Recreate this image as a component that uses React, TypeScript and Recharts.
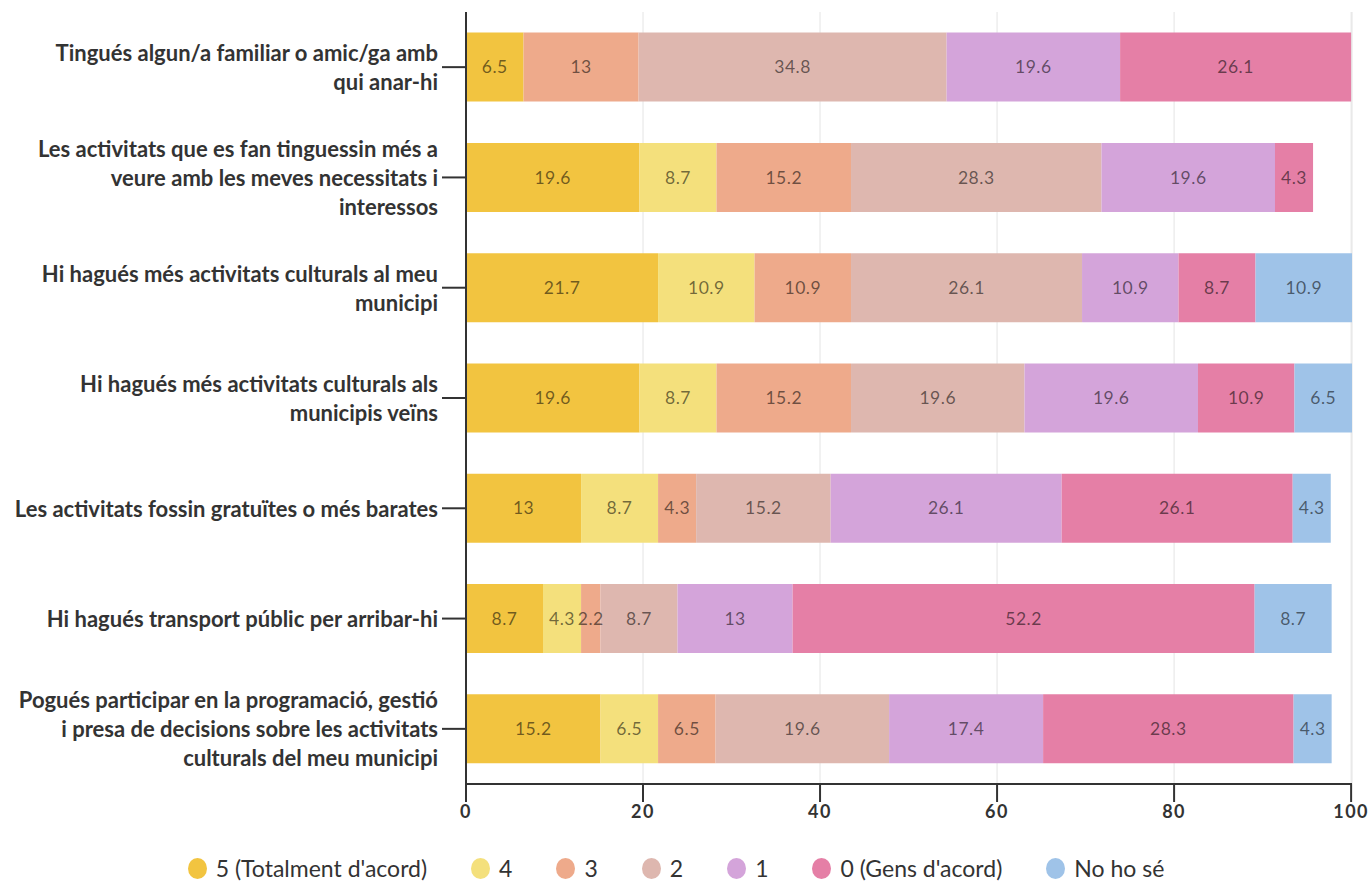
import { Bar, BarChart, CartesianGrid, LabelList, Legend, XAxis, YAxis } from "recharts";

const catLines: string[][] = [
  ["Tingués algun/a familiar o amic/ga amb", "qui anar-hi"],
  ["Les activitats que es fan tinguessin més a", "veure amb les meves necessitats i", "interessos"],
  ["Hi hagués més activitats culturals al meu", "municipi"],
  ["Hi hagués més activitats culturals als", "municipis veïns"],
  ["Les activitats fossin gratuïtes o més barates"],
  ["Hi hagués transport públic per arribar-hi"],
  ["Pogués participar en la programació, gestió", "i presa de decisions sobre les activitats", "culturals del meu municipi"],
];

const s5 = [6.5, 19.6, 21.7, 19.6, 13, 8.7, 15.2];
const s4 = [0, 8.7, 10.9, 8.7, 8.7, 4.3, 6.5];
const s3 = [13, 15.2, 10.9, 15.2, 4.3, 2.2, 6.5];
const s2 = [34.8, 28.3, 26.1, 19.6, 15.2, 8.7, 19.6];
const s1 = [19.6, 19.6, 10.9, 19.6, 26.1, 13, 17.4];
const s0 = [26.1, 4.3, 8.7, 10.9, 26.1, 52.2, 28.3];
const sNs = [0, 0, 10.9, 6.5, 4.3, 8.7, 4.3];

const xTicks = [0, 20, 40, 60, 80, 100];

const series = [
  { key: "v5", name: "5 (Totalment d'acord)", color: "#f2c440", vals: s5 },
  { key: "v4", name: "4", color: "#f4e07c", vals: s4 },
  { key: "v3", name: "3", color: "#eeaa8b", vals: s3 },
  { key: "v2", name: "2", color: "#deb7af", vals: s2 },
  { key: "v1", name: "1", color: "#d4a4da", vals: s1 },
  { key: "v0", name: "0 (Gens d'acord)", color: "#e57fa6", vals: s0 },
  { key: "ns", name: "No ho sé", color: "#9fc3e8", vals: sNs },
];

const data = catLines.map((lines, i) => {
  const row: Record<string, string | number> = { name: lines.join(" ") };
  series.forEach((s) => { row[s.key] = s.vals[i]; });
  return row;
});

const FONT = "Lato, 'Open Sans', sans-serif";

function CatTick({ x, y, index }: any) {
  const lines = catLines[index] || [];
  const lh = 29;
  const start = -((lines.length - 1) * lh) / 2;
  return (
    <text x={x} y={y} textAnchor="end" fill="#333" fontFamily={FONT} fontWeight={700} fontSize={22}>
      {lines.map((l, i) => (
        <tspan key={i} x={x} y={y + start + i * lh} dominantBaseline="central">{l}</tspan>
      ))}
    </text>
  );
}

function LegendContent() {
  return (
    <div style={{ height: 44, boxSizing: "border-box", paddingBottom: 8, display: "flex", justifyContent: "center", alignItems: "center", gap: 44, fontFamily: FONT, fontSize: 23, color: "#333" }}>
      {series.map((s) => (
        <div key={s.key} style={{ display: "flex", alignItems: "center", gap: 9 }}>
          <span style={{ display: "inline-block", width: 19, height: 21, borderRadius: "50%", background: s.color }} />
          <span>{s.name}</span>
        </div>
      ))}
    </div>
  );
}

export default function App() {
  return (
    <div style={{ position: "fixed", left: 0, top: 0, width: 1372, height: 894, background: "#fff", overflow: "hidden" }}>
      <BarChart layout="vertical" width={1372} height={894} data={data} margin={{ top: 12, right: 20, left: 0, bottom: 0 }} barCategoryGap="18.7%">
        <CartesianGrid horizontal={false} stroke="#e4e4e4" />
        <XAxis
          type="number"
          domain={[0, 100]}
          ticks={xTicks}
          height={66}
          stroke="#333"
          strokeWidth={2}
          tickSize={18}
          tickMargin={3}
          tick={{ fill: "#333", fontSize: 18, fontFamily: FONT, fontWeight: 700, letterSpacing: 1.5 }}
        />
        <YAxis
          type="category"
          dataKey="name"
          width={466}
          stroke="#333"
          strokeWidth={2}
          tickSize={24}
          tickMargin={4}
          tick={<CatTick />}
          interval={0}
        />
        <Legend verticalAlign="bottom" height={44} content={<LegendContent />} />
        {series.map((s) => (
          <Bar key={s.key} dataKey={s.key} name={s.name} stackId="a" fill={s.color} isAnimationActive={false}>
            <LabelList
              dataKey={s.key}
              position="center"
              formatter={(v: any) => (v ? String(v) : "")}
              fill="#000"
              fillOpacity={0.55}
              fontSize={17.5}
              fontFamily={FONT}
              letterSpacing={0.5}
            />
          </Bar>
        ))}
      </BarChart>
    </div>
  );
}
